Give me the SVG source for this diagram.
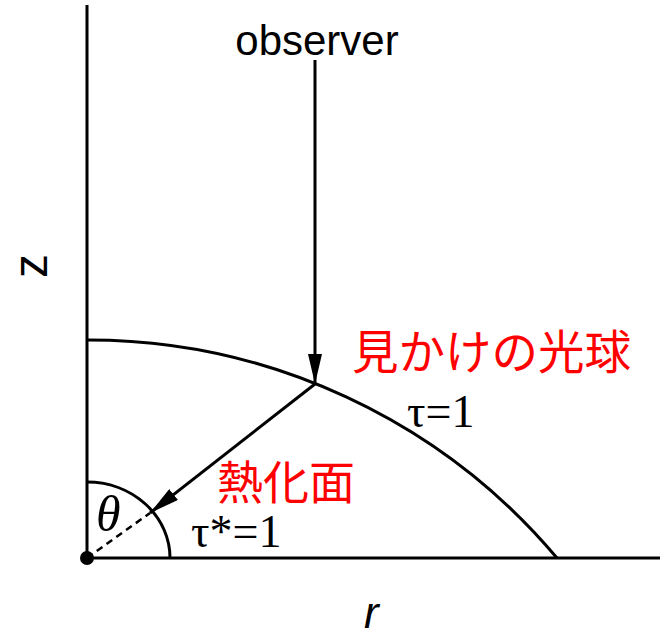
<svg xmlns="http://www.w3.org/2000/svg" width="660" height="636" viewBox="0 0 660 636">
<style>
.ln{fill:none;stroke:#000;stroke-width:3}
.sans{font-family:"Liberation Sans",Arial,sans-serif}
.serif{font-family:"Liberation Serif","Times New Roman",serif}
.jp{font-family:"Noto Sans CJK JP","Noto Sans CJK SC",sans-serif;fill:#ff0000}
</style>
<defs>
<marker id="ah2" viewBox="0 0 30 14" refX="30" refY="7" markerWidth="30" markerHeight="14" markerUnits="userSpaceOnUse" orient="auto">
<path d="M0,0 L30,7 L0,14 z" fill="#000"/>
</marker>
</defs>
<g id="axes">
<line class="ln" x1="87" y1="5" x2="87" y2="558"/>
<line class="ln" x1="87" y1="558" x2="660" y2="558"/>
<circle cx="87" cy="558" r="7" fill="#000"/>
</g>
<g id="photosphere">
<path class="ln" d="M87,340 A613,613 0 0 1 557,558"/>
</g>
<g id="thermalization">
<path class="ln" d="M87,482 A83,76 0 0 1 170,558"/>
</g>
<g id="connectors">
<line class="ln" x1="315" y1="60" x2="315" y2="384" marker-end="url(#ah2)"/>
<line class="ln" x1="315" y1="384" x2="150" y2="513" marker-end="url(#ah2)"/>
<line x1="87" y1="558" x2="150" y2="513" stroke="#000" stroke-width="2.5" stroke-dasharray="7,5"/>
</g>
<g id="labels">
<text class="sans" x="317" y="55" font-size="42" text-anchor="middle">observer</text>
<text class="jp" x="352" y="369" font-size="46.5">見かけの光球</text>
<text class="serif" x="407" y="427" font-size="46">τ=1</text>
<text class="jp" x="217" y="499" font-size="46">熱化面</text>
<text class="serif" x="191" y="547" font-size="46">τ*=1</text>
<text class="serif" x="96" y="531" font-size="50" font-style="italic">θ</text>
<text class="sans" x="364" y="628" font-size="44" font-style="italic">r</text>
<text class="sans" x="0" y="0" font-size="48" text-anchor="middle" transform="translate(47,266) rotate(-90)">z</text>
</g>
</svg>
